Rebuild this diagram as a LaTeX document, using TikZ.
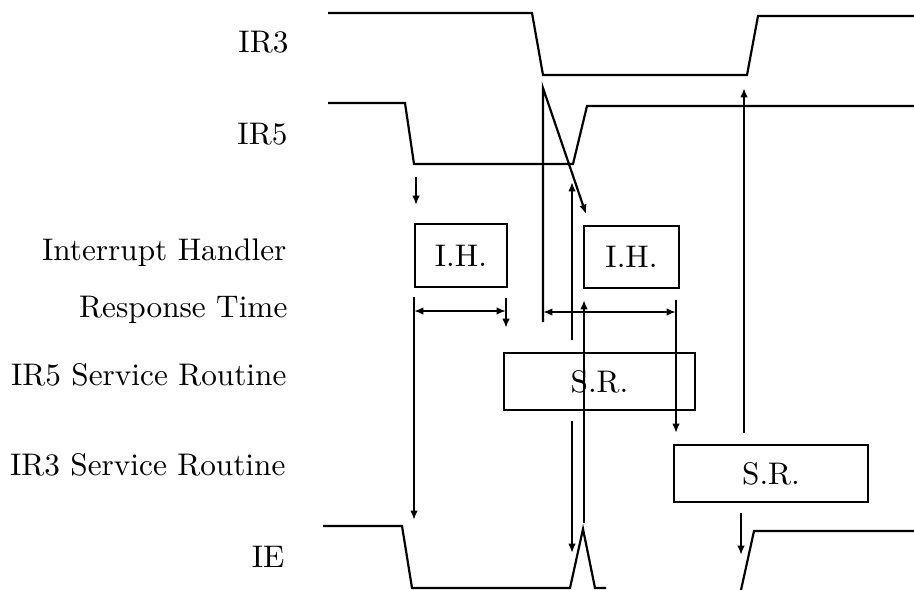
\documentclass[tikz,border=0pt]{standalone}
\usetikzlibrary{arrows.meta}
\begin{document}
\begin{tikzpicture}[x=0.32pt,y=-0.32pt,
  wave/.style={line width=0.7pt, line join=miter},
  box/.style={draw, line width=0.7pt, inner sep=0pt, outer sep=0pt},
  lab/.style={anchor=base east, inner sep=0pt},
  conn/.style={line width=0.7pt},
  tip/.style={conn, -{Latex[length=3pt,width=2.4pt]}},
  both/.style={conn, {Latex[length=3pt,width=2.4pt]}-{Latex[length=3pt,width=2.4pt]}}]
\useasboundingbox (0,0) rectangle (914,589);

% row labels
\node[lab] (lirthree) at (289,52) {IR3};
\node[lab] (lirfive) at (288,144) {IR5};
\node[lab] (lih) at (287,260) {Interrupt Handler};
\node[lab] (lrt) at (288,317) {Response Time};
\node[lab] (lsrfive) at (287,385) {IR5 Service Routine};
\node[lab] (lsrthree) at (286,475) {IR3 Service Routine};
\node[lab] (lie) at (285,567) {IE};

% boxes
\node[box, minimum width=29.44pt, minimum height=20.16pt] (ihone) at (461,255.5) {I.H.};
\node[box, minimum width=30.4pt, minimum height=19.84pt] (ihtwo) at (631.5,257) {I.H.};
\node[box, minimum width=61.12pt, minimum height=18.24pt] (srfive) at (599.5,381.5) {S.R.};
\node[box, minimum width=62.08pt, minimum height=18.24pt] (srthree) at (771,473.5) {S.R.};

% waveforms
\draw[wave] (328,13) -- (532,13) -- (543,75) -- (747,75) -- (758,16) -- (914,16);
\draw[wave] (328,103) -- (405,103) -- (414,164) -- (573,164) -- (587,106) -- (914,106);
\draw[wave] (323,526) -- (402,526) -- (412,588) -- (570,588) -- (583,529) -- (595,588) -- (606,588);
\draw[wave] (741,590) -- (754,531) -- (914,531);

% connector end points
\coordinate (aa) at (416,177);  \coordinate (ab) at (416,205);
\coordinate (ba) at (414,297);  \coordinate (bb) at (414,520);
\coordinate (rta) at (414,311); \coordinate (rtb) at (506,311);
\coordinate (ca) at (506,298);  \coordinate (cb) at (506,328);
\coordinate (da) at (543,322);  \coordinate (db) at (543,88);  \coordinate (dc) at (586,214);
\coordinate (ea) at (572,340);  \coordinate (eb) at (572,182);
\coordinate (rtc) at (543,312); \coordinate (rtd) at (676,312);
\coordinate (fa) at (584,523);  \coordinate (fb) at (584,300);
\coordinate (ga) at (676,300);  \coordinate (gb) at (676,433);
\coordinate (ha) at (744,433);  \coordinate (hb) at (744,88);
\coordinate (ia) at (572,421);  \coordinate (ib) at (572,553);
\coordinate (ja) at (741,513);  \coordinate (jb) at (741,555);

% connectors
\draw[tip] (aa) -- (ab);
\draw[tip] (ba) -- (bb);
\draw[both] (rta) -- (rtb);
\draw[tip] (ca) -- (cb);
\draw[tip, line join=miter] (da) -- (db) -- (dc);
\draw[tip] (ea) -- (eb);
\draw[both] (rtc) -- (rtd);
\draw[tip] (fa) -- (fb);
\draw[tip] (ga) -- (gb);
\draw[tip] (ha) -- (hb);
\draw[tip] (ia) -- (ib);
\draw[tip] (ja) -- (jb);
\end{tikzpicture}
\end{document}
